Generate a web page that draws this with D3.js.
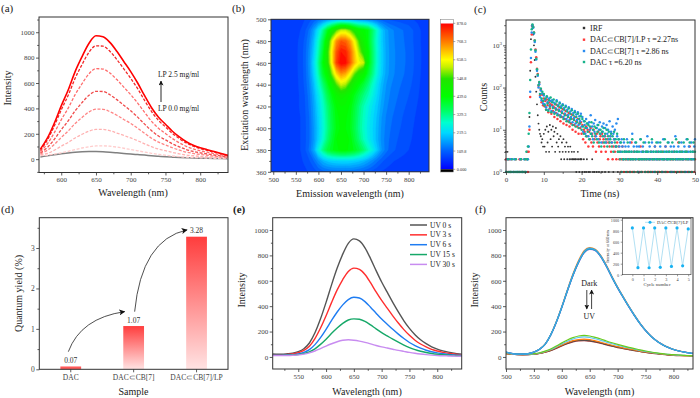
<!DOCTYPE html>
<html><head><meta charset="utf-8">
<script src="https://cdn.jsdelivr.net/npm/d3@7/dist/d3.min.js"></script>
<style>html,body{margin:0;padding:0;background:#fff;}svg{display:block;background:#fff}svg text{font-family:'Liberation Serif','Times New Roman',Times,serif}</style>
</head><body>
<svg id="fig" width="700" height="398" xmlns="http://www.w3.org/2000/svg"></svg>
<script>
// ================= DATA =================
// (a) emission spectra vs LP concentration
const aWavelength = [570,580,590,600,610,620,630,640,650,660,670,680,690,700,710,720,730,740,750,760,770,780,790,800,810,820,830,840];
const aLP0  = [18,26,34,42,49,55,59,61,61,59,55,50,45,40,36,32,27,23,19,16,13,11,9,8,7,6,5,4];
const aLP1  = [28,32,40,50,62,75,88,98,104,105,102,95,86,76,66,56,46,38,31,25,20,16,13,11,9,7,6,5];
const aLP2  = [35,45,70,102,132,167,196,221,234,235,224,206,187,167,145,121,98,80,67,53,42,33,27,22,18,15,11,8];
const aLP3  = [42,70,116,171,222,281,329,372,394,393,374,346,313,281,244,204,165,134,112,90,71,56,45,37,31,24,18,13];
const aLP4  = [50,92,156,232,301,381,446,504,534,533,508,469,425,381,331,276,224,182,152,121,97,76,61,50,41,33,25,17];
const aLP5  = [60,120,208,310,402,508,595,673,713,710,678,627,568,508,442,369,298,243,203,162,129,101,81,66,55,44,33,22];
const aLP6  = [70,150,262,388,503,637,746,843,893,890,850,785,712,637,555,462,375,305,254,203,162,127,102,83,69,55,42,28];
const aLP7  = [79,165,283,420,545,690,808,913,972,965,920,850,770,690,600,500,405,330,275,220,175,137,110,90,75,60,45,30];
const aXTicks = [600,650,700,750,800];
const aYTicks = [0,200,400,600,800,1000];

// (b) excitation-emission map
const bEmission = [500,510,520,530,540,550,560,570,580,590,600,610,620,630,640,650,660,670,680,690,700,710,720,730,740,750,760,770,780,790,800,810,820,830,840];
const bExcitation = [500,490,480,470,460,450,440,430,420,410,400,390,380,370,360];
const bEx500 = [70,70,70,70,70,72,75,80,90,105, 120,135,150,165,175,178,175,170,162,155, 148,138,128,118,108,100,95,92,90,88, 85,80,75,70,70];
const bEx490 = [70,70,70,70,72,75,80,95,125,170, 240,320,410,490,560,615,615,575,515,465, 450,420,350,280,210,170,148,136,126,118, 112,100,88,76,70];
const bEx480 = [70,70,70,70,72,76,84,105,140,195, 280,370,490,630,750,800,790,740,650,550, 480,420,340,270,210,172,150,138,128,120, 112,100,88,76,70];
const bEx470 = [70,70,70,70,72,76,86,110,150,210, 300,400,530,670,800,860,850,790,700,600, 520,440,350,275,215,175,152,140,130,122, 114,102,90,77,70];
const bEx460 = [70,70,70,70,72,76,86,110,155,225, 320,430,520,660,820,878,870,800,710,650, 620,440,350,275,215,175,152,140,130,122, 114,102,90,77,70];
const bEx450 = [70,70,70,70,72,76,85,108,150,215, 300,400,460,580,690,750,730,660,570,510, 470,400,330,265,210,172,150,138,128,120, 112,100,88,76,70];
const bEx440 = [70,70,70,70,72,75,84,105,140,195, 270,340,410,480,560,620,600,530,470,430, 390,340,285,235,190,160,142,132,122,114, 106,96,85,74,70];
const bEx430 = [70,70,70,70,72,75,82,100,130,180, 240,300,370,425,470,490,480,455,415,375, 335,300,260,220,180,152,136,126,116,108, 100,92,82,72,70];
const bEx420 = [70,70,70,70,72,75,82,98,125,170, 225,280,340,395,440,460,455,435,390,340, 300,265,235,205,170,145,130,120,110,102, 95,88,78,71,70];
const bEx410 = [70,70,70,70,72,74,80,95,120,165, 215,270,330,385,430,450,445,425,380,330, 290,255,225,195,160,138,124,114,105,97, 90,83,75,70,70];
const bEx400 = [70,70,70,70,72,74,80,94,118,160, 210,265,325,380,425,445,440,420,375,325, 285,250,220,190,155,134,120,110,101,94, 87,80,73,70,70];
const bEx390 = [70,70,70,70,72,74,80,94,118,160, 215,275,340,395,440,460,455,435,390,340, 295,255,222,188,152,130,115,105,96,90, 84,78,72,70,70];
const bEx380 = [70,70,70,70,72,74,80,95,125,175, 260,330,385,415,435,445,445,435,415,385, 345,300,255,205,160,128,110,100,92,86, 80,75,72,70,70];
const bEx370 = [70,70,70,70,70,72,76,84,98,120, 155,185,205,215,220,222,222,220,214,205, 190,170,148,125,105,92,84,79,75,72, 70,70,70,70,70];
const bEx360 = [70,70,70,70,70,70,72,76,82,90, 102,112,118,122,125,125,125,123,120,115, 108,100,92,84,78,74,72,71,70,70, 70,70,70,70,70];
const bRows = [bEx500,bEx490,bEx480,bEx470,bEx460,bEx450,bEx440,bEx430,bEx420,bEx410,bEx400,bEx390,bEx380,bEx370,bEx360];
const bXTicks = [500,550,600,650,700,750,800];
const bYTicks = [360,380,400,420,440,460,480,500];
const bColorbarTicks = [0,109.75,219.5,329.25,439,548.75,658.5,768.25,878];
const bColorbarLabels = ["0.000","109.8","219.5","329.3","439.0","548.8","658.5","768.3","878.0"];

// (c) time-resolved decay, counts per 0.2 ns channel from t = 0
const cTimeStep = 0.2;
const cIRF = [3,0,3,0,2,0,0,1,0,0, 0,2,0,0,0,1,0,0,2,0, 0,0,1,0,0,0,1,0,2,0,
  4,20,250,1400,2900,2600,1800,1000,450,180, 80,40,22,14,10,8,7,5,6,4,
  8,4,10,3,12,5,9,3,13,6, 10,4,12,7,9,3,11,5,8,4,
  6,3,7,2,5,3,6,2,4,3, 5,2,4,3,2,4,2,3,2,2, 3,2,2,1,2,3,2,1,2,2,
  2,1,0,2,1,0,1,2,0,1, 0,1,0,0,2,1,0,1,0,0, 1,0,0,1,0,0,0,1,0,0, 0,1,0,0,0,0,1,0,0,0, 0,0,1,0,0,0,0,0,1,0,
  0,0,1,0,0,0,0,1,0,0, 0,0,0,1,0,0,0,0,0,0, 1,0,0,0,0,0,1,0,0,0, 0,0,0,0,1,0,0,0,0,0, 0,1,0,0,0,0,0,0,1,0,
  0,0,0,0,0,1,0,0,0,0, 0,0,1,0,0,0,0,0,0,1, 0,0,0,0,0,0,1,0,0,0, 0,1,0,0,0,0,0,0,0,1, 0,0,0,0,1,0,0,0,0,0, 0];
const cLP = [2,0,2,1,2,0,1,2,0,0, 1,0,0,2,0,0,0,1,2,0, 2,1,0,0,1,0,2,0,3,1,
  3,10,60,400,1800,3000,2700,2000,1300,800, 520,280,210,110,130,65,90,45,68,38,
  55,36,48,30,52,38,26,44,32,40, 24,38,28,35,20,33,25,39,18,30, 22,34,16,27,20,31,14,24,18,28, 13,22,16,25,12,19,14,23,10,18, 13,20,9,16,12,18,8,14,11,15,
  8,13,6,10,9,5,12,7,10,4, 9,6,11,5,8,4,10,6,7,3, 8,5,9,4,6,7,3,8,5,6, 4,7,3,5,6,2,5,4,7,3, 5,2,4,6,3,4,2,5,3,4,
  2,3,1,2,4,2,1,3,2,0, 2,1,3,2,1,2,5,1,2,3, 1,2,0,3,1,2,2,1,4,2, 1,3,2,0,1,2,3,1,2,1, 2,1,3,2,1,0,2,4,1,2,
  3,1,2,1,2,0,1,3,2,1, 2,4,1,2,1,3,0,2,1,2, 1,2,3,1,2,1,0,2,5,1, 2,1,3,2,1,2,0,1,2,3, 1,2,1,4,2,1,2,0,3,1, 2];
const cCB7 = [1,0,2,0,0,1,2,0,0,1, 0,2,1,0,0,1,0,0,1,2, 0,0,1,0,2,0,1,0,2,2,
  4,12,80,500,2000,2900,2600,1900,1200,700, 460,250,190,100,120,60,85,50,72,42,
  65,40,52,34,60,45,30,55,38,48, 28,50,35,44,26,42,32,50,24,38, 30,44,22,36,27,40,20,33,24,37, 18,30,22,34,17,27,20,31,15,25, 19,28,14,23,17,26,13,21,16,24,
  12,20,9,16,13,8,18,11,14,7, 15,10,22,8,12,6,14,9,17,7, 11,13,6,10,15,8,5,12,9,14, 7,11,5,13,8,10,6,16,7,9, 5,12,8,6,10,4,14,7,18,6,
  4,5,3,6,4,2,5,3,4,3, 6,2,4,3,5,2,3,8,2,4, 3,5,2,4,3,1,4,2,6,3, 2,4,3,2,5,3,2,7,3,2, 4,2,3,5,2,3,1,4,2,3,
  2,5,3,2,4,3,2,1,6,2, 3,4,2,3,2,5,3,2,4,1, 3,2,4,3,7,2,3,2,4,3, 2,3,5,2,3,2,4,3,1,6, 2,3,4,2,3,5,2,3,2,4, 6];
const cDAC = [1,1,0,2,1,0,1,1,2,0, 1,0,1,2,1,1,0,1,0,1, 2,1,1,0,1,2,1,3,2,4,
  8,25,150,800,2400,3100,2700,2000,1300,760, 480,270,200,115,135,70,95,55,80,48,
  70,38,55,30,62,42,28,50,35,58, 26,45,33,52,24,40,30,47,22,36, 28,42,20,33,25,38,18,30,22,35, 16,27,20,32,15,24,18,29,13,22, 17,26,12,20,15,24,11,18,14,21,
  10,18,12,8,16,11,7,14,9,13, 6,12,8,15,7,10,5,12,8,11, 6,9,13,5,8,10,4,9,7,11, 5,8,6,10,4,7,9,5,6,8, 4,7,3,9,5,6,4,8,3,6,
  3,2,5,1,3,2,6,3,2,1, 3,5,2,3,1,2,3,6,2,1, 3,2,5,3,1,2,3,2,6,1, 2,3,5,2,1,3,2,3,1,5, 2,3,1,6,2,3,2,1,3,5,
  2,1,3,2,5,3,1,2,3,2, 6,1,3,2,5,2,3,1,2,3, 5,2,1,3,2,6,3,1,2,5, 3,2,1,3,2,5,1,3,2,3, 6,2,1,5,3,2,1,3,5,2, 3];
const cLabels = ["IRF","DAC\u2282CB[7]/LP \u03c4 =2.27ns","DAC\u2282CB[7] \u03c4 =2.86 ns","DAC \u03c4 =6.20 ns"];
const cXTicks = [0,10,20,30,40,50];
const cYTicks = [1,10,100,1000];

// (d) quantum yield
const dSamples = ["DAC","DAC\u2282CB[7]","DAC\u2282CB[7]/LP"];
const dYield = [0.07,1.07,3.28];
const dYTicks = [0,1,2,3];

// (e) UV irradiation series
const eWavelength = [500,510,520,530,540,550,560,570,580,590,600,610,620,630,640,650,660,670,680,690,700,710,720,730,740,750,760,770,780,790,800,810,820,830,840,850];
const eUV0  = [24,22,22,25,30,42,65,110,190,300,430,570,700,810,895,930,915,860,775,680,590,510,430,355,285,225,175,135,105,80,62,48,38,30,24,20];
const eUV3  = [19,18,18,20,24,33,52,85,145,228,325,430,528,610,674,700,690,650,585,512,445,384,324,267,215,170,132,102,79,60,47,36,29,23,18,15];
const eUV6  = [15,14,14,15,18,24,36,58,97,152,218,288,354,410,452,470,464,436,392,344,298,258,218,180,145,114,89,69,53,41,32,25,20,16,13,11];
const eUV15 = [13,12,12,13,15,18,26,40,64,99,140,186,228,264,291,300,297,280,252,221,192,166,140,116,94,74,58,45,35,27,21,17,14,11,9,8];
const eUV30 = [11,10,10,11,13,16,22,32,47,66,86,104,120,131,135,132,125,115,103,90,79,70,61,52,44,36,29,23,18,14,11,9,8,7,6,6];
const eLabels = ["UV 0 s","UV 3 s","UV 6 s","UV 15 s","UV 30 s"];
const eXTicks = [550,600,650,700,750,800];
const eYTicks = [0,200,400,600,800,1000];

// (f) dark / UV cycling
const fWavelength = [500,510,520,530,540,550,560,570,580,590,600,610,620,630,640,650,660,670,680,690,700,710,720,730,740,750,760,770,780,790,800,810,820,830,840];
const fDark0 = [36,27,22,22,26,38,61,101,175,277,398,530,655,760,838,862,849,799,722,634,551,475,401,331,267,211,164,127,99,77,60,48,39,31,25];
const fDark1 = [35,26,21,21,25,37,59,98,171,270,389,518,640,743,820,848,836,786,710,624,542,467,394,325,262,207,161,125,97,75,59,47,38,30,24];
const fDark2 = [37,28,22,22,26,38,60,99,172,272,391,521,643,746,823,852,840,790,713,626,544,469,396,327,263,208,162,126,98,76,59,47,38,31,25];
const fDark3 = [38,28,23,22,26,38,60,100,173,273,393,523,646,749,826,855,842,792,715,628,546,470,397,328,264,209,162,126,98,76,59,47,38,31,25];
const fDark4 = [37,27,22,22,26,37,60,99,172,271,390,520,642,745,822,850,838,789,712,625,543,468,395,326,262,208,161,125,97,75,59,47,37,30,24];
const fDark5 = [38,28,22,22,26,38,61,100,174,275,395,525,649,752,829,857,844,794,717,630,547,472,398,329,265,210,163,126,98,76,60,47,38,31,25];
const fUV1 = [26,22,19,18,19,22,28,38,52,70,90,108,122,130,132,128,120,110,98,87,77,68,60,52,44,37,31,26,21,17,14,12,10,9,8];
const fUV2 = [25,21,18,17,18,21,27,37,50,67,87,104,118,126,128,124,117,107,95,84,74,66,58,50,43,36,30,25,20,16,13,11,10,9,8];
const fUV3 = [27,23,20,19,20,23,29,40,55,74,95,114,129,137,140,136,127,116,104,92,81,72,63,55,46,39,33,27,22,18,15,13,11,9,8];
const fUV4 = [29,24,21,20,21,24,31,43,59,80,103,124,141,153,158,153,143,131,117,104,92,81,71,62,52,44,37,30,25,20,17,14,12,10,9];
const fUV5 = [30,25,22,21,22,26,33,46,63,86,111,134,152,165,170,165,154,141,126,112,99,87,76,66,56,47,39,32,26,21,18,15,12,10,9];
const fXTicks = [500,550,600,650,700,750,800];
const fYTicks = [0,200,400,600,800,1000];
const fCycle = [0,0.5,1,1.5,2,2.5,3,3.5,4,4.5,5];
const fCycleIntensity = [850,128,850,126,850,135,850,150,850,162,832];
const fInsetXTicks = [0,1,2,3,4,5];
const fInsetYTicks = [0,200,400,600,800,1000];

// ================= DRAWING =================
const svg = d3.select('#fig');
const FONT = "'Liberation Serif','Times New Roman',Times,serif";
const defs = svg.append('defs');

function txt(x, y, s, size, o = {}) {
  const t = svg.append('text').attr('x', x).attr('y', y)
    .attr('font-family', FONT).attr('font-size', size)
    .attr('fill', o.fill || '#1a1a1a').attr('text-anchor', o.anchor || 'start').text(s);
  if (o.rotate) t.attr('transform', `rotate(-90,${x},${y})`);
  if (o.weight) t.attr('font-weight', o.weight);
  return t;
}
function clip(id, r, pad = 0) {
  defs.append('clipPath').attr('id', id).append('rect')
    .attr('x', r.x0 - pad).attr('y', r.y0 - pad).attr('width', r.x1 - r.x0 + 2 * pad).attr('height', r.y1 - r.y0 + 2 * pad);
  return `url(#${id})`;
}
function frame(r, w = 1) {
  svg.append('rect').attr('x', r.x0).attr('y', r.y0).attr('width', r.x1 - r.x0).attr('height', r.y1 - r.y0)
    .attr('fill', 'none').attr('stroke', '#333').attr('stroke-width', w);
}
function axes(r, x, y, o) {
  const g = svg.append('g');
  const mk = (axis, tr) => g.append('g').attr('transform', tr).call(axis);
  mk(d3.axisBottom(x).tickValues(o.xMajor).tickSize(o.ts || 3).tickPadding(2).tickFormat(o.xFmt || (d => d)), `translate(0,${r.y1})`);
  if (o.xMinor) mk(d3.axisBottom(x).tickValues(o.xMinor).tickSize(1.8).tickFormat(''), `translate(0,${r.y1})`);
  mk(d3.axisLeft(y).tickValues(o.yMajor).tickSize(o.ts || 3).tickPadding(1.5).tickFormat(o.yFmt || (d => d)), `translate(${r.x0},0)`);
  if (o.yMinor) mk(d3.axisLeft(y).tickValues(o.yMinor).tickSize(1.8).tickFormat(''), `translate(${r.x0},0)`);
  g.selectAll('.domain').remove();
  g.attr('font-family', FONT);
  g.selectAll('.tick line').attr('stroke', '#333').attr('stroke-width', o.tw || 0.8);
  g.selectAll('.tick text').attr('font-family', FONT).attr('font-size', o.fs || 7).attr('fill', '#444');
  return g;
}
function arrowMarker(id, size) {
  defs.append('marker').attr('id', id).attr('viewBox', '0 0 10 10').attr('refX', 9).attr('refY', 5)
    .attr('markerWidth', size).attr('markerHeight', size).attr('markerUnits', 'userSpaceOnUse').attr('orient', 'auto')
    .append('path').attr('d', 'M0,0 L10,5 L0,10 L2.5,5 Z').attr('fill', '#111');
}
arrowMarker('arr', 6);
arrowMarker('arrS', 5);

// ---------- (a) ----------
{
  const r = {x0: 39, x1: 228, y0: 17, y1: 172.5};
  const x = d3.scaleLinear().domain([568, 840]).range([r.x0, r.x1]);
  const y = d3.scaleLinear().domain([-105, 1120]).range([r.y1, r.y0]);
  const line = d3.line().x((d, i) => x(aWavelength[i])).y(d => y(d)).curve(d3.curveMonotoneX);
  const series = [aLP0, aLP1, aLP2, aLP3, aLP4, aLP5, aLP6, aLP7];
  const styles = [
    {c: '#808080', w: 1.5, dash: null},
    {c: '#ffcccc', w: 1.3, dash: '3,1.6'},
    {c: '#ffb2b2', w: 1.3, dash: '3,1.6'},
    {c: '#ff8484', w: 1.3, dash: '3,1.6'},
    {c: '#f04a4a', w: 1.3, dash: '3,1.6'},
    {c: '#ff6c6c', w: 1.3, dash: '3,1.6'},
    {c: '#f22626', w: 1.3, dash: '3,1.6'},
    {c: '#ff0000', w: 1.6, dash: null}
  ];
  const g = svg.append('g').attr('clip-path', clip('ca', r));
  series.forEach((s, i) => {
    g.append('path').attr('d', line(s)).attr('fill', 'none').attr('stroke', styles[i].c)
      .attr('stroke-width', styles[i].w).attr('stroke-dasharray', styles[i].dash);
  });
  axes(r, x, y, {xMajor: aXTicks, xMinor: [575,625,675,725,775,825], yMajor: aYTicks, yMinor: [-100,100,300,500,700,900,1100]});
  frame(r);
  txt(158, 76.5, 'LP 2.5 mg/ml', 7.5);
  txt(158, 111, 'LP 0.0 mg/ml', 7.5);
  svg.append('line').attr('x1', 161).attr('x2', 161).attr('y1', 102).attr('y2', 81).attr('stroke', '#111').attr('stroke-width', 0.9).attr('marker-end', 'url(#arrS)');
  txt(10.5, 88, 'Intensity', 10, {rotate: true, anchor: 'middle'});
  txt(133, 195.5, 'Wavelength (nm)', 10, {anchor: 'middle'});
  txt(1, 12, '(a)', 11);
}

// ---------- (b) ----------
{
  const r = {x0: 271, x1: 429, y0: 19.3, y1: 171.8};
  const x = d3.scaleLinear().domain([495, 845]).range([r.x0, r.x1]);
  const y = d3.scaleLinear().domain([360, 500]).range([r.y1, r.y0]);
  const stops = [[0,'#0000ff'],[0.125,'#0060ff'],[0.25,'#00d8ff'],[0.32,'#00ffd0'],[0.4,'#00ff66'],[0.5,'#00ff00'],[0.62,'#22e400'],[0.7,'#c4f000'],[0.75,'#ffff00'],[0.87,'#ff8000'],[1,'#ff0000']];
  const vmax = 878;
  const color = d3.scaleLinear().domain(stops.map(s => s[0] * vmax)).range(stops.map(s => s[1])).clamp(true);
  const nx = bEmission.length, ny = bExcitation.length;
  const values = bRows.flat();
  const thresholds = d3.range(0, vmax, 20);
  const contours = d3.contours().size([nx, ny]).thresholds(thresholds)(values);
  const dE = bEmission[1] - bEmission[0], dX = bExcitation[1] - bExcitation[0];
  const proj = d3.geoTransform({point(px, py) {
    this.stream.point(x(bEmission[0] + (px - 0.5) * dE), y(bExcitation[0] + (py - 0.5) * dX));
  }});
  const path = d3.geoPath(proj);
  const g = svg.append('g').attr('clip-path', clip('cb', r));
  g.append('rect').attr('x', r.x0).attr('y', r.y0).attr('width', r.x1 - r.x0).attr('height', r.y1 - r.y0).attr('fill', color(70));
  g.selectAll('path').data(contours).join('path').attr('d', path)
    .attr('fill', d => color(d.value + 10)).attr('stroke', d => color(d.value + 10)).attr('stroke-width', 0.3);
  axes(r, x, y, {xMajor: bXTicks, xMinor: [525,575,625,675,725,775,825], yMajor: bYTicks, yMinor: [370,390,410,430,450,470,490]});
  frame(r);
  // colorbar
  const cb = {x0: 440.7, x1: 453.3};
  const cy = d3.scaleLinear().domain([0, vmax]).range([169.3, 23.3]);
  const grad = defs.append('linearGradient').attr('id', 'cbg').attr('x1', 0).attr('y1', 1).attr('x2', 0).attr('y2', 0);
  stops.forEach(s => grad.append('stop').attr('offset', s[0]).attr('stop-color', s[1]));
  svg.append('rect').attr('x', cb.x0).attr('y', cy(vmax)).attr('width', cb.x1 - cb.x0).attr('height', cy(0) - cy(vmax)).attr('fill', 'url(#cbg)');
  svg.append('rect').attr('x', cb.x0).attr('y', 19.3).attr('width', cb.x1 - cb.x0).attr('height', cy(vmax) - 19.3).attr('fill', '#fff');
  svg.append('rect').attr('x', cb.x0).attr('y', cy(0)).attr('width', cb.x1 - cb.x0).attr('height', 2.7).attr('fill', '#000');
  svg.append('rect').attr('x', cb.x0).attr('y', 19.3).attr('width', cb.x1 - cb.x0).attr('height', 172 - 19.3).attr('fill', 'none').attr('stroke', '#777').attr('stroke-width', 0.5);
  bColorbarTicks.forEach((v, i) => {
    svg.append('line').attr('x1', cb.x1).attr('x2', cb.x1 + 2).attr('y1', cy(v)).attr('y2', cy(v)).attr('stroke', '#555').attr('stroke-width', 0.5);
    txt(cb.x1 + 3.5, cy(v) + 1.5, bColorbarLabels[i], 4.3, {fill: '#333'});
  });
  txt(247.5, 95, 'Excitation wavelength (nm)', 10, {rotate: true, anchor: 'middle'});
  txt(350, 197, 'Emission wavelength (nm)', 10, {anchor: 'middle'});
  txt(232, 12, '(b)', 11);
}

// ---------- (c) ----------
{
  const r = {x0: 506, x1: 695, y0: 20, y1: 172};
  const x = d3.scaleLinear().domain([0, 50]).range([r.x0, r.x1]);
  const y = d3.scaleLog().domain([1, Math.pow(10, 3.6)]).range([r.y1, r.y0]);
  const series = [cIRF, cLP, cCB7, cDAC];
  const colors = ['#333333', '#ff3b3b', '#2a8cf0', '#17b38a'];
  const radii = [0.95, 1.25, 1.25, 1.25];
  const cl = clip('cc', r, 1.5);
  series.forEach((s, k) => {
    const pts = s.map((c, i) => [i * cTimeStep, c]).filter(d => d[1] >= 1 && d[0] <= 50);
    svg.append('g').attr('clip-path', cl).selectAll('circle').data(pts).join('circle')
      .attr('cx', d => x(d[0])).attr('cy', d => y(d[1])).attr('r', radii[k]).attr('fill', colors[k]);
  });
  const minor = [];
  [1, 10, 100, 1000].forEach(b => { for (let m = 2; m <= 9; m++) if (b * m < Math.pow(10, 3.6)) minor.push(b * m); });
  axes(r, x, y, {xMajor: cXTicks, xMinor: [5,15,25,35,45], yMajor: cYTicks, yMinor: minor, yFmt: () => ''});
  cYTicks.forEach(v => {
    const t = txt(r.x0 - 4, y(v) + 2.5, '', 7, {anchor: 'end', fill: '#444'});
    t.append('tspan').text('10');
    t.append('tspan').attr('dy', -3).attr('font-size', 5).text(Math.round(Math.log10(v)));
  });
  frame(r);
  const ly = [28, 39.7, 51, 62];
  cLabels.forEach((s, i) => {
    svg.append('rect').attr('x', 582.8).attr('y', ly[i] - 1.2).attr('width', 2.4).attr('height', 2.4).attr('fill', colors[i]);
    txt(590, ly[i] + 2.7, s, 8);
  });
  txt(487, 97, 'Counts', 10, {rotate: true, anchor: 'middle'});
  txt(600, 197, 'Time (ns)', 10, {anchor: 'middle'});
  txt(474, 13, '(c)', 11);
}

// ---------- (d) ----------
{
  const r = {x0: 39.3, x1: 228, y0: 217.7, y1: 369.3};
  const x = d3.scaleBand().domain(dSamples).range([r.x0, r.x1]).paddingInner(0.67).paddingOuter(0.335);
  const y = d3.scaleLinear().domain([0, 3.75]).range([r.y1, r.y0]);
  const grad = defs.append('linearGradient').attr('id', 'barg').attr('x1', 0).attr('y1', 0).attr('x2', 0).attr('y2', 1);
  grad.append('stop').attr('offset', 0).attr('stop-color', '#ff3d3d');
  grad.append('stop').attr('offset', 1).attr('stop-color', '#ffe3e3');
  svg.append('g').selectAll('rect').data(dYield).join('rect')
    .attr('x', (d, i) => x(dSamples[i])).attr('width', x.bandwidth())
    .attr('y', d => y(d)).attr('height', d => y(0) - y(d)).attr('fill', (d, i) => i === 0 ? '#ff5a5a' : 'url(#barg)');
  dYield.forEach((v, i) => txt(x(dSamples[i]) + x.bandwidth() / 2, y(v) - 3.5, v.toFixed(2), 7.5, {anchor: 'middle', fill: '#333'}));
  const cx = i => x(dSamples[i]) + x.bandwidth() / 2;
  const p1 = [[cx(0) - 2.4, y(dYield[0]) - 14.8], [cx(0) + 10, y(dYield[1]) - 8], [cx(1) - 9, y(dYield[1]) - 14.4]];
  const p2 = [[cx(1) + 1, y(dYield[1]) - 14.4], [cx(1) + 8, y(dYield[2]) + 3], [cx(2) - 9.5, y(dYield[2]) - 6.8]];
  [p1, p2].forEach(p => svg.append('path').attr('d', `M${p[0]}Q${p[1]} ${p[2]}`).attr('fill', 'none')
    .attr('stroke', '#222').attr('stroke-width', 0.8).attr('marker-end', 'url(#arr)'));
  axes(r, x, y, {xMajor: dSamples, yMajor: dYTicks, yMinor: [0.5,1.5,2.5,3.5], fs: 7.5});
  frame(r);
  txt(22, 293.5, 'Quantum yield (%)', 10, {rotate: true, anchor: 'middle'});
  txt(133.5, 395, 'Sample', 10, {anchor: 'middle'});
  txt(1, 213, '(d)', 11);
}

// ---------- (e) ----------
{
  const r = {x0: 272.7, x1: 461.7, y0: 217.7, y1: 369};
  const x = d3.scaleLinear().domain([504, 844]).range([r.x0, r.x1]);
  const y = d3.scaleLinear().domain([-95, 1097]).range([r.y1, r.y0]);
  const line = d3.line().x((d, i) => x(eWavelength[i])).y(d => y(d)).curve(d3.curveMonotoneX);
  const series = [eUV0, eUV3, eUV6, eUV15, eUV30];
  const colors = ['#555555', '#ff2e2e', '#1e7cf2', '#16a868', '#c88cf0'];
  const g = svg.append('g').attr('clip-path', clip('ce', r));
  series.forEach((s, i) => g.append('path').attr('d', line(s)).attr('fill', 'none').attr('stroke', colors[i]).attr('stroke-width', 1.4));
  axes(r, x, y, {xMajor: eXTicks, xMinor: [525,575,625,675,725,775,825], yMajor: eYTicks, yMinor: [100,300,500,700,900]});
  frame(r);
  eLabels.forEach((s, i) => {
    const yy = 225 + i * 9.85;
    svg.append('line').attr('x1', 410).attr('x2', 427).attr('y1', yy).attr('y2', yy).attr('stroke', colors[i]).attr('stroke-width', 1.5);
    txt(430, yy + 2.5, s, 7.5);
  });
  txt(245, 290, 'Intensity', 10, {rotate: true, anchor: 'middle'});
  txt(367, 395, 'Wavelength (nm)', 10, {anchor: 'middle'});
  txt(233, 213, '(e)', 11, {weight: 'bold'});
}

// ---------- (f) ----------
{
  const r = {x0: 506, x1: 693, y0: 217.7, y1: 369};
  const x = d3.scaleLinear().domain([500, 835]).range([r.x0, r.x1]);
  const y = d3.scaleLinear().domain([-95, 1097]).range([r.y1, r.y0]);
  const line = d3.line().x((d, i) => x(fWavelength[i])).y(d => y(d)).curve(d3.curveMonotoneX);
  const series = [fUV2, fUV1, fUV3, fUV4, fUV5, fDark0, fDark1, fDark2, fDark3, fDark4, fDark5];
  const colors = ['#a83232', '#4d4d4d', '#ff7f0e', '#5cc6f2', '#6acb1f', '#ff8c1a', '#d77ee0', '#8c6fd6', '#2f6fd0', '#1f9fcf', '#3fa9dc'];
  const g = svg.append('g').attr('clip-path', clip('cf', r));
  series.forEach((s, i) => g.append('path').attr('d', line(s)).attr('fill', 'none').attr('stroke', colors[i]).attr('stroke-width', 1.2));
  axes(r, x, y, {xMajor: fXTicks, xMinor: [525,575,625,675,725,775,825], yMajor: fYTicks, yMinor: [100,300,500,700,900]});
  frame(r);
  txt(589.3, 286, 'Dark', 8, {anchor: 'middle'});
  txt(589.3, 318.5, 'UV', 8, {anchor: 'middle'});
  svg.append('line').attr('x1', 586.8).attr('x2', 586.8).attr('y1', 290).attr('y2', 309).attr('stroke', '#111').attr('stroke-width', 0.8).attr('marker-end', 'url(#arrS)');
  svg.append('line').attr('x1', 591.6).attr('x2', 591.6).attr('y1', 309).attr('y2', 290).attr('stroke', '#111').attr('stroke-width', 0.8).attr('marker-end', 'url(#arrS)');
  // inset
  const ri = {x0: 622.3, x1: 691, y0: 218.6, y1: 274.7};
  svg.append('rect').attr('x', ri.x0).attr('y', ri.y0).attr('width', ri.x1 - ri.x0).attr('height', ri.y1 - ri.y0).attr('fill', '#fff');
  const xi = d3.scaleLinear().domain([-0.9, 5.25]).range([ri.x0, ri.x1]);
  const yi = d3.scaleLinear().domain([0, 1020]).range([ri.y1, ri.y0]);
  svg.append('path').attr('d', d3.line().x((d, i) => xi(fCycle[i])).y(d => yi(d))(fCycleIntensity))
    .attr('fill', 'none').attr('stroke', '#a9dcf2').attr('stroke-width', 0.9);
  svg.append('g').selectAll('circle').data(fCycleIntensity).join('circle')
    .attr('cx', (d, i) => xi(fCycle[i])).attr('cy', d => yi(d)).attr('r', 1.6).attr('fill', '#18b2f2');
  axes(ri, xi, yi, {xMajor: fInsetXTicks, yMajor: fInsetYTicks, fs: 4.2, ts: 1.6, tw: 0.5});
  frame(ri, 0.6);
  svg.append('line').attr('x1', 645).attr('x2', 655).attr('y1', 222.3).attr('y2', 222.3).attr('stroke', '#a9dcf2').attr('stroke-width', 0.9);
  svg.append('circle').attr('cx', 650).attr('cy', 222.3).attr('r', 1.5).attr('fill', '#18b2f2');
  txt(657, 223.8, 'DAC\u2282CB[7]/LP', 4.5, {fill: '#333'});
  txt(657, 286, 'Cycle number', 4.8, {anchor: 'middle', fill: '#333'});
  txt(608.5, 246.5, 'Intensity at 660 nm', 4.2, {rotate: true, anchor: 'middle', fill: '#333'});
  txt(477.5, 290, 'Intensity', 10, {rotate: true, anchor: 'middle'});
  txt(599.5, 395, 'Wavelength (nm)', 10, {anchor: 'middle'});
  txt(475, 213, '(f)', 11);
}
</script>
</body></html>
